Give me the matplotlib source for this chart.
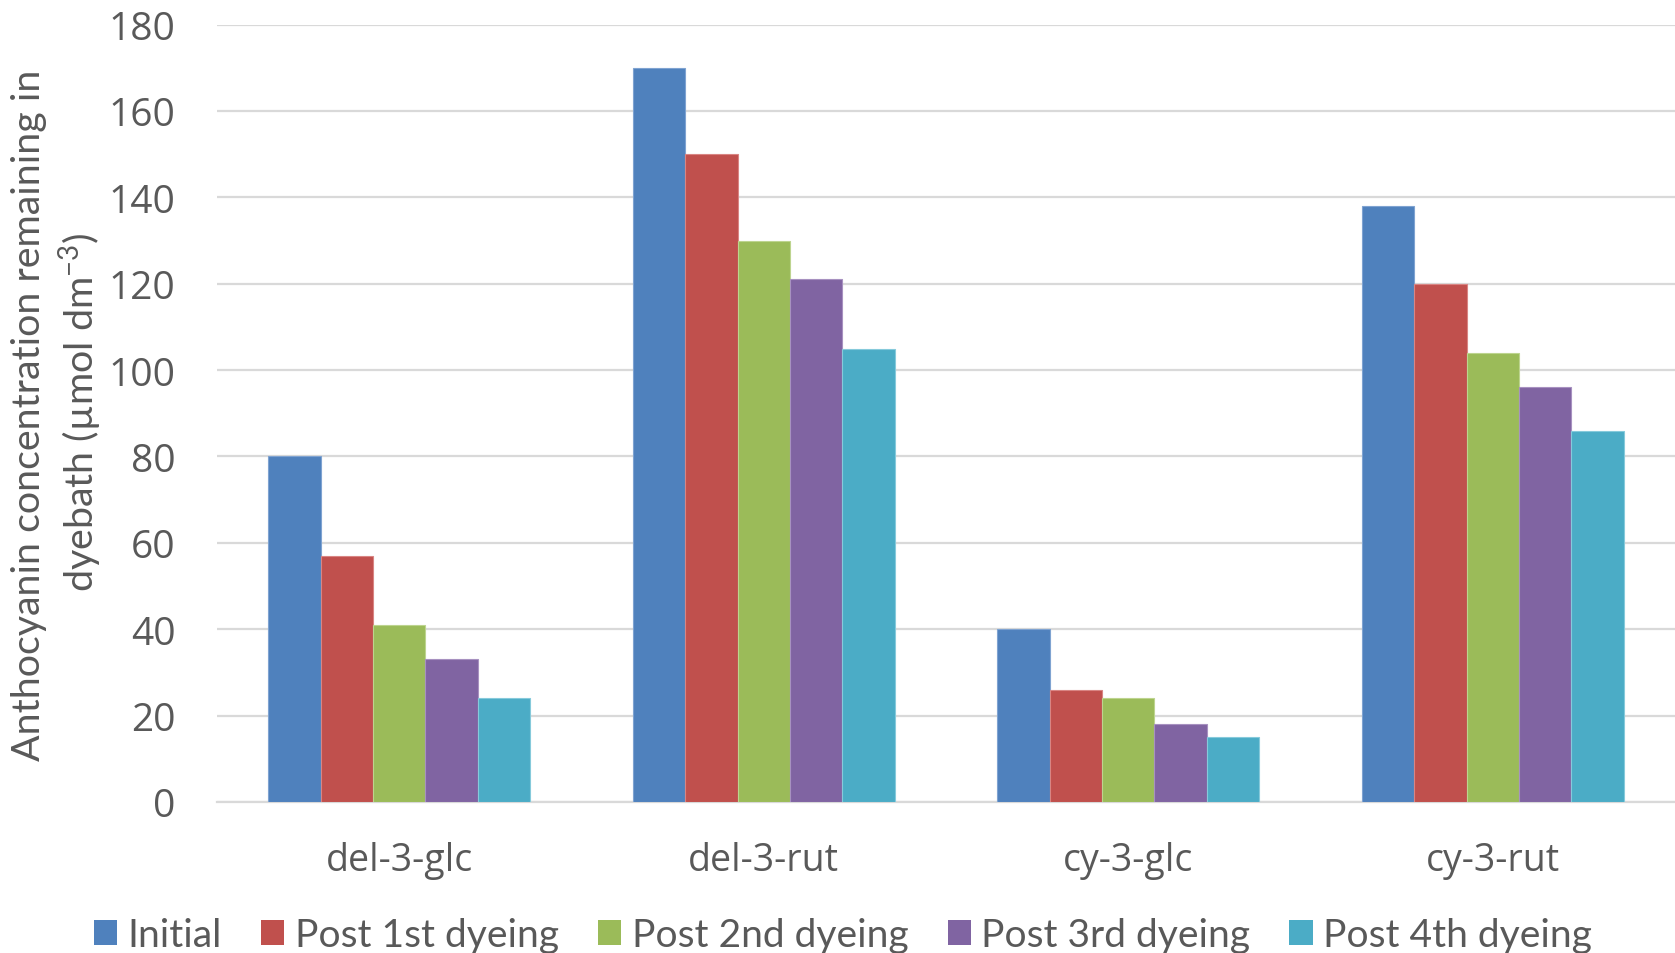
import matplotlib
matplotlib.use("Agg")
import matplotlib.pyplot as plt
from matplotlib.patches import Rectangle
from matplotlib import font_manager
import numpy as np

categories = ["del-3-glc", "del-3-rut", "cy-3-glc", "cy-3-rut"]
series_names = ["Initial", "Post 1st dyeing", "Post 2nd dyeing",
                "Post 3rd dyeing", "Post 4th dyeing"]
initial = [80, 170, 40, 138]
post_1st = [57, 150, 26, 120]
post_2nd = [41, 130, 24, 104]
post_3rd = [33, 121, 18, 96]
post_4th = [24, 105, 15, 86]
y_ticks = [0, 20, 40, 60, 80, 100, 120, 140, 160, 180]

series = [initial, post_1st, post_2nd, post_3rd, post_4th]
colors = ["#4F81BD", "#C0504D", "#9BBB59", "#8064A2", "#4BACC6"]
edges = ["#7fa3d1", "#d98583", "#bdd48f", "#a791c0", "#86cadb"]

names = {f.name for f in font_manager.fontManager.ttflist}
narrow = "Lato" if "Lato" in names else "DejaVu Sans"
main = "Open Sans" if "Open Sans" in names else "DejaVu Sans"
text_color = "#595959"

W, H = 1675, 954
fig = plt.figure(figsize=(W / 100, H / 100), dpi=100)
ax = fig.add_axes([217 / W, 1 - 803 / H, 1 - 217 / W, (803 - 25.6) / H])

x = np.arange(len(categories))
group_width = 0.718
bw = group_width / len(series)
for i, (vals, c, ec) in enumerate(zip(series, colors, edges)):
    offs = -group_width / 2 + bw * (i + 0.5)
    ax.bar(x + offs, vals, width=bw, color=c, edgecolor=ec, linewidth=0.8,
           zorder=3, label=series_names[i])

ax.set_xlim(-0.5, len(categories) - 0.5)
ax.set_ylim(0, 180)
ax.set_yticks(y_ticks)
ax.set_yticklabels([str(v) for v in y_ticks])
ax.set_xticks(x)
ax.set_xticklabels(categories)
ax.tick_params(axis="y", length=0, pad=30, labelsize=28, labelcolor=text_color)
ax.tick_params(axis="x", length=0, pad=28, labelsize=27, labelcolor=text_color)
for lab in ax.get_xticklabels() + ax.get_yticklabels():
    lab.set_fontfamily(main)

ax.yaxis.grid(True, color="#d9d9d9", linewidth=1.6, zorder=0)
ax.set_axisbelow(True)
for side in ["top", "right", "left"]:
    ax.spines[side].set_visible(False)
ax.spines["bottom"].set_color("#d9d9d9")
ax.spines["bottom"].set_linewidth(1.6)

renderer = fig.canvas.get_renderer()


def fit_size(artist, target_px, horizontal=True):
    # scale the font so the text covers the wanted span in pixels
    bb = artist.get_window_extent(renderer)
    span = bb.width if horizontal else bb.height
    artist.set_fontsize(artist.get_fontsize() * target_px / span)


y1 = fig.text(29 / W, 1 - 415 / H, "Anthocyanin concentration remaining in",
              rotation=90, ha="center", va="center", fontsize=29,
              family=narrow, color=text_color)
fit_size(y1, 691, horizontal=False)
y2 = fig.text(81 / W, 1 - 412 / H, r"dyebath (µmol dm$^{\mathregular{-3}}$)",
              rotation=90, ha="center", va="center",
              fontsize=y1.get_fontsize(), family=narrow, color=text_color)

handles = [Rectangle((0, 0), 1, 1, facecolor=c, edgecolor="none") for c in colors]
leg_kw = dict(loc="center", bbox_to_anchor=(843 / W, 1 - 936 / H), ncol=5,
              frameon=False, labelcolor=text_color, handlelength=0.6,
              handleheight=0.6, handletextpad=0.27, columnspacing=1.0,
              borderaxespad=0, borderpad=0)
leg = fig.legend(handles, series_names, prop={"family": narrow, "size": 29}, **leg_kw)
span = leg.get_window_extent(renderer).width
leg.remove()
leg = fig.legend(handles, series_names,
                 prop={"family": narrow, "size": 29 * 1498 / span}, **leg_kw)

fig.savefig("out.png", dpi=100)
